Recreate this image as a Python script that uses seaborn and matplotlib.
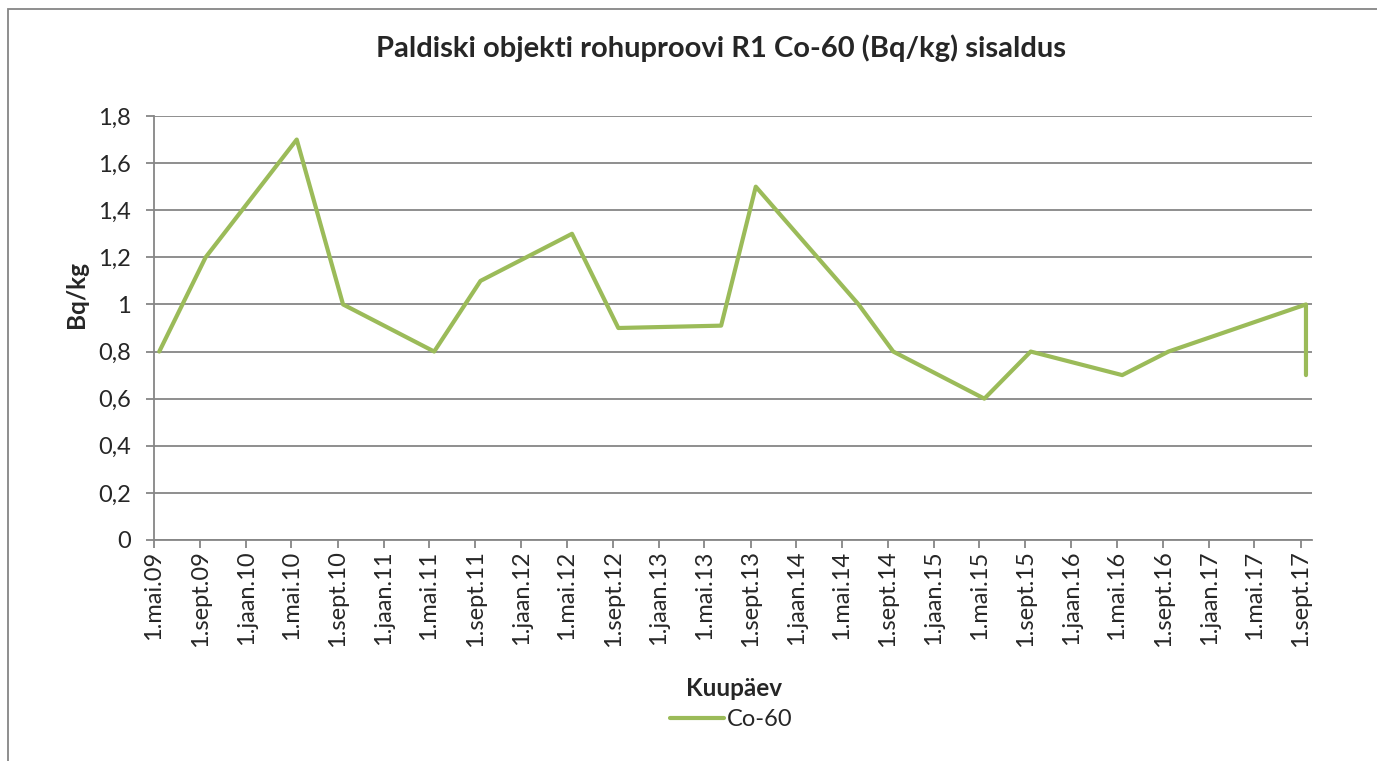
import pandas as pd
import seaborn as sns
import matplotlib.pyplot as plt
import matplotlib.patches as patches

# Data
sample_dates = ['2009-05-15', '2009-09-15', '2010-05-15', '2010-09-15',
                '2011-05-15', '2011-09-15', '2012-05-15', '2012-09-15',
                '2013-06-15', '2013-09-15', '2014-06-15', '2014-09-15',
                '2015-05-15', '2015-09-15', '2016-05-15', '2016-09-15',
                '2017-09-15', '2017-09-15']
co60 = [0.8, 1.2, 1.7, 1.0, 0.8, 1.1, 1.3, 0.9,
        0.91, 1.5, 1.0, 0.8, 0.6, 0.8, 0.7, 0.8,
        1.0, 0.7]

tick_labels = ['1.mai.09', '1.sept.09', '1.jaan.10', '1.mai.10', '1.sept.10',
               '1.jaan.11', '1.mai.11', '1.sept.11', '1.jaan.12', '1.mai.12',
               '1.sept.12', '1.jaan.13', '1.mai.13', '1.sept.13', '1.jaan.14',
               '1.mai.14', '1.sept.14', '1.jaan.15', '1.mai.15', '1.sept.15',
               '1.jaan.16', '1.mai.16', '1.sept.16', '1.jaan.17', '1.mai.17',
               '1.sept.17']
y_ticks = [0, 0.2, 0.4, 0.6, 0.8, 1.0, 1.2, 1.4, 1.6, 1.8]
y_tick_labels = ['0', '0,2', '0,4', '0,6', '0,8', '1', '1,2', '1,4', '1,6', '1,8']

months = {'jaan': 1, 'mai': 5, 'sept': 9}

def label_to_date(lbl):
    day, mon, yy = lbl.split('.')
    return pd.Timestamp(2000 + int(yy), months[mon], int(day))

tick_dates = [label_to_date(t) for t in tick_labels]

df = pd.DataFrame({'date': pd.to_datetime(sample_dates), 'Co-60': co60})

sns.set_style('white')
plt.rcParams['font.family'] = ['Lato', 'DejaVu Sans']

green = '#9BBB59'
grey = '#868686'

fig = plt.figure(figsize=(13.77, 7.61), dpi=100)
ax = fig.add_axes([154 / 1377, 1 - 540 / 761, (1312 - 154) / 1377, (540 - 116) / 761])

sns.lineplot(data=df, x='date', y='Co-60', ax=ax, color=green, linewidth=3.0,
             estimator=None, sort=False, label='Co-60', legend=False)

ax.set_xlim(pd.Timestamp('2009-05-01'), pd.Timestamp('2017-10-01'))
ax.set_ylim(0, 1.8)
ax.set_xticks(tick_dates)
ax.set_xticklabels(tick_labels, rotation=90, fontsize=17)
ax.set_yticks(y_ticks)
ax.set_yticklabels(y_tick_labels, fontsize=17)
ax.yaxis.grid(True, color=grey, linewidth=1.3)
ax.set_axisbelow(True)
ax.tick_params(axis='both', direction='out', length=5.5, width=1.3, color=grey,
               left=True, bottom=True)
ax.tick_params(axis='y', pad=11)
ax.tick_params(axis='x', pad=2)
for side in ['top', 'right']:
    ax.spines[side].set_visible(False)
for side in ['left', 'bottom']:
    ax.spines[side].set_color(grey)
    ax.spines[side].set_linewidth(1.3)
ax.set_xlabel('')
ax.set_ylabel('')

fig.text(721 / 1377, 1 - 48 / 761, 'Paldiski objekti rohuproovi R1 Co-60 (Bq/kg) sisaldus',
         ha='center', va='center', fontsize=21, fontweight='bold')
fig.text(76 / 1377, 1 - 294 / 761, 'Bq/kg', ha='center', va='center',
         rotation=90, fontsize=17.5, fontweight='bold')
fig.text(734 / 1377, 1 - 688 / 761, 'Kuupäev', ha='center', va='center',
         fontsize=17.5, fontweight='bold')

handles, labels = ax.get_lines()[:1], ['Co-60']
fig.legend(handles, labels, loc='center', bbox_to_anchor=(731 / 1377, 1 - 720 / 761),
           frameon=False, fontsize=17, handlelength=2.3, handletextpad=0.12)

# chart area border (cropped at right/bottom)
fig.patches.append(patches.Rectangle((8 / 1377, -0.1), 1.2, 1.1 - 9 / 761,
                                     transform=fig.transFigure, fill=False,
                                     edgecolor=grey, linewidth=1.3))

fig.savefig('out.png', dpi=100)
